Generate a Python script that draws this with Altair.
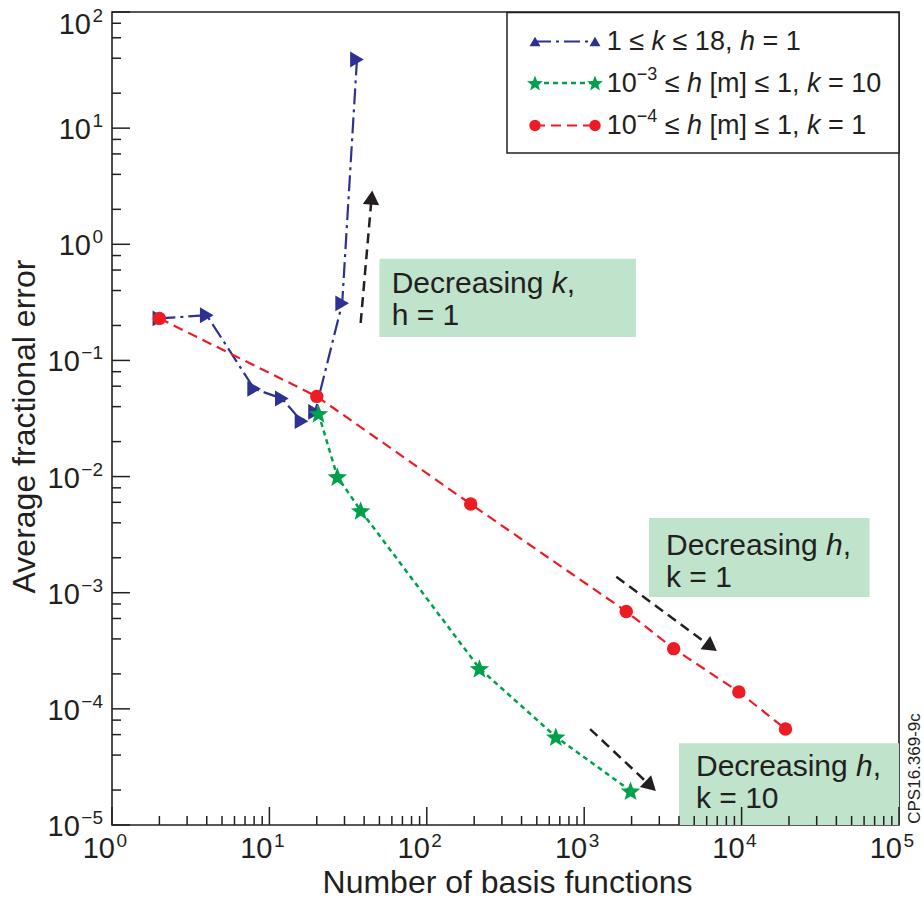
import math
import altair as alt
import pandas as pd

# ---------------- data ----------------
blue_n = [2, 4, 8, 12, 16, 19.5, 29, 36]
blue_err = [0.23, 0.245, 0.057, 0.047, 0.030, 0.036, 0.31, 39]
green_n = [20.5, 27, 38, 216, 660, 1970]
green_err = [0.035, 0.010, 0.0051, 2.23e-4, 5.75e-5, 1.97e-5]
red_n = [2, 20, 190, 1850, 3700, 9600, 19000]
red_err = [0.23, 0.049, 0.0058, 6.9e-4, 3.3e-4, 1.4e-4, 6.7e-5]

x_decades = [1, 10, 100, 1000, 10000, 100000]
x_exps = ["0", "1", "2", "3", "4", "5"]
y_decades = [100, 10, 1, 0.1, 0.01, 0.001, 1e-4, 1e-5]
y_exps = ["2", "1", "0", "−1", "−2", "−3", "−4", "−5"]
x_minor_mult = [2, 3, 4, 5, 6, 7, 8, 9]
y_minor_mult = [2, 4, 6, 8]

arrow_n0 = [38, 1600, 1090]
arrow_e0 = [0.21, 1.37e-3, 6.7e-5]
arrow_n1 = [45, 6950, 2850]
arrow_e1 = [2.9, 3.15e-4, 1.97e-5]

box_n0 = [50, 2580, 4000]
box_n1 = [2130, 65000, 100000]
box_e0 = [0.159, 9.2e-4, 1e-5]
box_e1 = [0.75, 4.4e-3, 5.05e-5]

legend_texts = {
    "blue": [("1 ≤ ", "n"), ("k", "i"), (" ≤ 18, ", "n"), ("h", "i"), (" = 1", "n")],
    "green": [("10", "n"), ("−3", "sup"), (" ≤ ", "n"), ("h", "i"), (" [m] ≤ 1, ", "n"), ("k", "i"), (" = 10", "n")],
    "red": [("10", "n"), ("−4", "sup"), (" ≤ ", "n"), ("h", "i"), (" [m] ≤ 1, ", "n"), ("k", "i"), (" = 1", "n")],
}
legend_order = ["blue", "green", "red"]
box_texts = [
    [[("Decreasing ", "n"), ("k", "i"), (",", "n")], [("h = 1", "n")]],
    [[("Decreasing ", "n"), ("h", "i"), (",", "n")], [("k = 1", "n")]],
    [[("Decreasing ", "n"), ("h", "i"), (",", "n")], [("k = 10", "n")]],
]
x_title = "Number of basis functions"
y_title = "Average fractional error"
fig_id = "CPS16.369-9c"

# ---------------- styles ----------------
W, H = 787, 813
FONT = "Liberation Sans"
INK = "#231f20"
BLUE = "#2e3192"
GREEN = "#00a14b"
RED = "#ed1c24"
BOXFILL = "#bfe3cb"

xs = alt.Scale(type="log", domain=[1, 1e5], nice=False)
ys = alt.Scale(type="log", domain=[1e-5, 1e2], nice=False)

# Arial / Liberation Sans advance widths (1/1000 em)
ADV = {' ': 278, '1': 556, '0': 556, '8': 556, '3': 556, '4': 556, '2': 556, '5': 556,
       '≤': 549, 'k': 500, 'h': 556, ',': 278, '=': 584, '[': 278, ']': 278, 'm': 833,
       '−': 584, 'D': 722, 'e': 556, 'c': 500, 'r': 333, 'a': 556, 's': 500, 'i': 222,
       'n': 556, 'g': 556}


def tw(s, size):
    return sum(ADV.get(c, 556) for c in s) * size / 1000.0


def layout(segs, x0, y0, size, sup_size, sup_raise):
    rows = []
    x = x0
    for text, style in segs:
        fs = sup_size if style == "sup" else size
        dy = -sup_raise if style == "sup" else 0
        lead = len(text) - len(text.lstrip(" "))
        rows.append(dict(t=text.strip(" "), px=x + tw(" " * lead, fs), py=y0 + dy, fs=fs,
                         style="italic" if style == "i" else "normal"))
        x += tw(text, fs)
    return rows


def text_layers(rows, angle=0, align="left"):
    df = pd.DataFrame(rows)
    out = []
    for style in ["normal", "italic"]:
        sub = df[df["style"] == style]
        if len(sub) == 0:
            continue
        out.append(
            alt.Chart(sub).mark_text(align=align, baseline="alphabetic", font=FONT,
                                     fontStyle=style, color=INK, angle=angle).encode(
                x=alt.X("px:Q", scale=None, axis=None),
                y=alt.Y("py:Q", scale=None, axis=None),
                text="t:N",
                size=alt.Size("fs:Q", scale=None, legend=None),
            )
        )
    return out


layers = []

# ---- annotation boxes ----
boxdf = pd.DataFrame({"n0": box_n0, "n1": box_n1, "e0": box_e0, "e1": box_e1})
layers.append(
    alt.Chart(boxdf).mark_rect(color=BOXFILL).encode(
        x=alt.X("n0:Q", scale=xs, axis=None), x2="n1:Q",
        y=alt.Y("e0:Q", scale=ys, axis=None), y2="e1:Q")
)

# ---- arrows ----
xdec, ydec = W / 5.0, H / 7.0
arows = []
for n0, e0, n1, e1 in zip(arrow_n0, arrow_e0, arrow_n1, arrow_e1):
    sx = xdec * math.log10(n1 / n0)
    sy = -ydec * math.log10(e1 / e0)
    L = math.hypot(sx, sy)
    ux, uy = sx / L, sy / L
    back = 7.0
    nc = n1 * 10 ** (-back * ux / xdec)
    ec = e1 * 10 ** (back * uy / ydec)
    ang = math.degrees(math.atan2(ux, -uy)) % 360
    arows.append(dict(n0=n0, e0=e0, nc=nc, ec=ec, ang=ang))
adf = pd.DataFrame(arows)
layers.append(
    alt.Chart(adf).mark_rule(color=INK, strokeWidth=2.5, strokeDash=[10, 6]).encode(
        x=alt.X("n0:Q", scale=xs, axis=None), x2="nc:Q",
        y=alt.Y("e0:Q", scale=ys, axis=None), y2="ec:Q")
)
layers.append(
    alt.Chart(adf).mark_point(shape="triangle-up", filled=True, size=270, color=INK,
                              opacity=1, strokeWidth=0).encode(
        x=alt.X("nc:Q", scale=xs, axis=None), y=alt.Y("ec:Q", scale=ys, axis=None),
        angle=alt.Angle("ang:Q", scale=None))
)

# ---- data series ----
star = []
for i in range(10):
    a = math.radians(-90 + 36 * i)
    r = 1.0 if i % 2 == 0 else 0.42
    star.append(f"{r * math.cos(a):.3f},{r * math.sin(a) + 0.1:.3f}")
STAR = "M" + "L".join(star) + "Z"

series = {
    "blue": (blue_n, blue_err, BLUE, [16, 5, 3, 5], 2.2, "triangle-right", 250, "triangle-up", 120),
    "red": (red_n, red_err, RED, [10, 6], 2.2, "circle", 180, "circle", 130),
    "green": (green_n, green_err, GREEN, [5, 4], 2.5, STAR, 420, STAR, 280),
}
for key in ["blue", "red", "green"]:
    xv, yv, col, dash, sw, shape, size, _, _ = series[key]
    df = pd.DataFrame({"n": xv, "err": yv, "o": list(range(len(xv)))})
    base = alt.Chart(df).encode(x=alt.X("n:Q", scale=xs, axis=None),
                                y=alt.Y("err:Q", scale=ys, axis=None), order="o:Q")
    layers.append(base.mark_line(color=col, strokeDash=dash, strokeWidth=sw))
    layers.append(base.mark_point(shape=shape, size=size, filled=True, color=col,
                                  opacity=1, strokeWidth=0))

# ---- ticks (inside) ----
xmaj = pd.DataFrame({"v": x_decades})
xmin = pd.DataFrame({"v": [m * d for d in x_decades[:-1] for m in x_minor_mult]})
ymaj = pd.DataFrame({"v": y_decades})
ymin = pd.DataFrame({"v": [m * d for d in y_decades[1:] for m in y_minor_mult]})
for df, ln in [(xmaj, 18), (xmin, 9)]:
    layers.append(alt.Chart(df).mark_rule(color=INK, strokeWidth=1.5).encode(
        x=alt.X("v:Q", scale=xs, axis=None), y=alt.value(H), y2=alt.value(H - ln)))
for df, ln in [(ymaj, 18), (ymin, 9)]:
    layers.append(alt.Chart(df).mark_rule(color=INK, strokeWidth=1.5).encode(
        y=alt.Y("v:Q", scale=ys, axis=None), x=alt.value(0), x2=alt.value(ln)))

# ---- tick labels ----
LBL, EXP = 29, 19
xl = pd.DataFrame({"v": x_decades, "e": x_exps, "b": ["10"] * len(x_decades)})
layers.append(alt.Chart(xl).mark_text(align="right", baseline="alphabetic", dx=3, font=FONT,
                                      fontSize=LBL, color=INK).encode(
    x=alt.X("v:Q", scale=xs, axis=None), y=alt.value(H + 33.3), text="b:N"))
layers.append(alt.Chart(xl).mark_text(align="left", baseline="alphabetic", dx=4.5, font=FONT,
                                      fontSize=EXP, color=INK).encode(
    x=alt.X("v:Q", scale=xs, axis=None), y=alt.value(H + 21.5), text="e:N"))

yl = pd.DataFrame({"v": y_decades, "e": y_exps, "b": ["10"] * len(y_decades),
                   "lx": [-9 - tw(e, EXP) - 1.5 for e in y_exps]})
for sub, shift in [(yl[yl["v"] < 100], 0), (yl[yl["v"] >= 100], 10.5)]:
    layers.append(alt.Chart(sub).mark_text(align="right", baseline="alphabetic", dy=11 + shift,
                                           font=FONT, fontSize=LBL, color=INK).encode(
        x=alt.X("lx:Q", scale=None, axis=None), y=alt.Y("v:Q", scale=ys, axis=None), text="b:N"))
    layers.append(alt.Chart(sub).mark_text(align="right", baseline="alphabetic", dy=-1 + shift,
                                           font=FONT, fontSize=EXP, color=INK).encode(
        x=alt.value(-9), y=alt.Y("v:Q", scale=ys, axis=None), text="e:N"))

# ---- axis titles & id ----
layers += text_layers([dict(t=x_title, px=395.5, py=H + 68.3, fs=32, style="normal")], align="center")
layers += text_layers([dict(t=y_title, px=-77, py=414.5, fs=32, style="normal")], angle=270, align="center")
layers += text_layers([dict(t=fig_id, px=808, py=756.5, fs=17, style="normal")], angle=270, align="center")

# ---- box texts ----
box_tx = [279.7, 554, 584]
box_ty = [281, 543, 764]
rows = []
for lines, bx, by in zip(box_texts, box_tx, box_ty):
    for li, segs in enumerate(lines):
        rows += layout(segs, bx, by + li * 31.5, 30, 20, 12)
layers += text_layers(rows)

# ---- legend ----
one = pd.DataFrame({"a": [0]})
layers.append(alt.Chart(one).mark_rect(fill="white", stroke=INK, strokeWidth=1.5).encode(
    x=alt.value(395), x2=alt.value(787), y=alt.value(0.5), y2=alt.value(141)))
leg_y = [29.5, 71, 113.5]
leg_base = [38, 80, 122]
rows = []
for key, ry, by in zip(legend_order, leg_y, leg_base):
    xv, yv, col, dash, sw, _, _, lshape, lsize = series[key]
    df = pd.DataFrame({"px": [423, 483], "py": [ry, ry]})
    b = alt.Chart(df).encode(x=alt.X("px:Q", scale=None, axis=None),
                             y=alt.Y("py:Q", scale=None, axis=None))
    layers.append(b.mark_line(color=col, strokeDash=dash, strokeWidth=sw))
    layers.append(b.mark_point(shape=lshape, size=lsize, filled=True, color=col,
                               opacity=1, strokeWidth=0))
    rows += layout(legend_texts[key], 494.7, by, 27, 18, 12)
layers += text_layers(rows)

chart = alt.layer(*layers).properties(
    width=W, height=H,
    padding={"left": 112, "top": 12, "right": 25, "bottom": 77},
    autosize=alt.AutoSizeParams(type="none"),
).configure_view(stroke=INK, strokeWidth=1.6)

chart.save("out.html", embed_options={"renderer": "svg", "actions": False})
